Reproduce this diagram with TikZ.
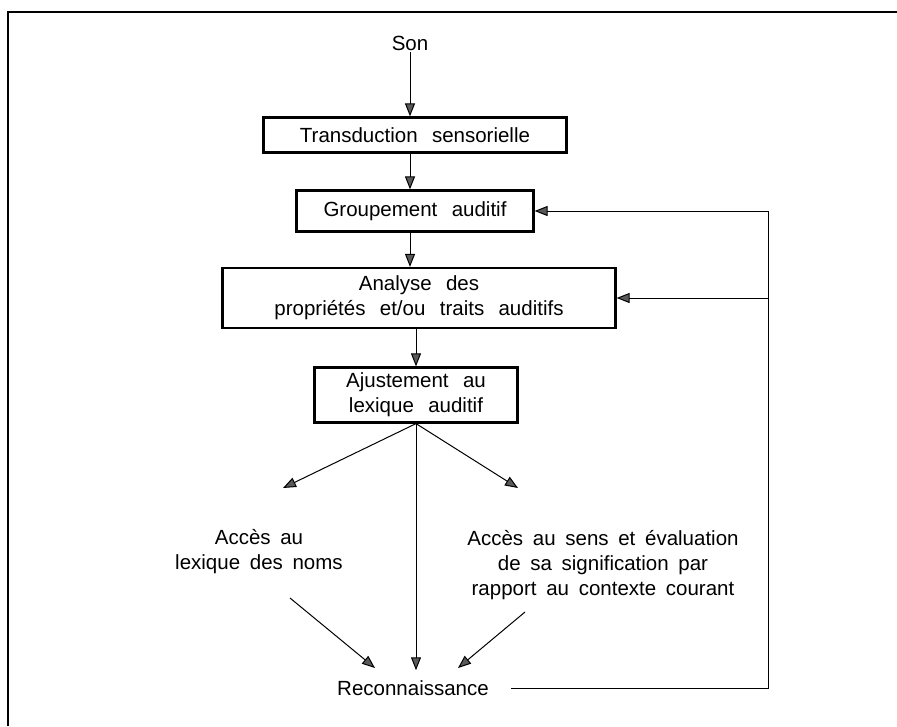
\documentclass[tikz,border=0pt]{standalone}
\usepackage{fontspec}
\setmainfont{Liberation Sans}[WordSpace=1.7]
\usetikzlibrary{arrows.meta}

\newcommand\ecart{\hspace{0.7em}}

\tikzset{
  boite/.style={draw, line width=2.2pt, align=center, inner sep=0pt},
  texte/.style={align=center, inner sep=2pt},
  fleche/.style={line width=1pt, -{Triangle[length=13pt,width=10pt,fill=black!65]}},
}

\begin{document}
\begin{tikzpicture}[x=1pt,y=-1pt, font=\fontsize{20.5}{25}\selectfont]
    \useasboundingbox (0,0) rectangle (897,726);
    % cadre
    \draw[line width=2.6pt] (8,726) -- (8,12) -- (897,12);

    \node[texte] (son) at (410,43) {Son};
    \node[boite, minimum width=303, minimum height=35] (trans) at (415,135) {Transduction\ecart sensorielle};
    \node[boite, minimum width=237, minimum height=41] (grp) at (415,211) {Groupement\ecart auditif};
    \node[boite, minimum width=393, minimum height=60] (ana) at (419,298) {Analyse\ecart des\\propriétés\ecart et/ou\ecart traits\ecart auditifs};
    \node[boite, minimum width=203, minimum height=55] (ajust) at (416,395) {Ajustement\ecart au\\lexique\ecart auditif};
    \node[texte] (noms) at (259,552) {Accès au\\lexique des noms};
    \node[texte] (sens) at (603,565) {Accès au sens et évaluation\\de sa signification par\\rapport au contexte courant};
    \node[texte] (reco) at (413,688) {Reconnaissance};

    \coordinate (bord) at (768,0);
    \coordinate (g1) at (283,488);
    \coordinate (d1) at (518,488);
    \coordinate (g2) at (290,598);
    \coordinate (g3) at (375,668);
    \coordinate (d2) at (525,612);
    \coordinate (d3) at (458,668);

    \draw[fleche] (son) -- (son |- trans.north);
    \draw[fleche] (trans.south -| son) -- (grp.north -| son);
    \draw[fleche] (grp.south -| son) -- (ana.north -| son);
    \draw[fleche] (ana.south -| ajust) -- (ajust.north);
    \draw[fleche] (ajust.south) -- (g1);
    \draw[fleche] (ajust.south) -- (d1);
    \draw[fleche, shorten >=8pt] (ajust.south) -- (ajust.south |- reco.north);
    \draw[fleche] (g2) -- (g3);
    \draw[fleche] (d2) -- (d3);
    % retour
    \draw[fleche] ([xshift=20pt]reco.east) -- (reco -| bord) -- (bord |- grp) -- (grp.east);
    \draw[fleche] (bord |- ana) -- (ana.east);
\end{tikzpicture}
\end{document}
